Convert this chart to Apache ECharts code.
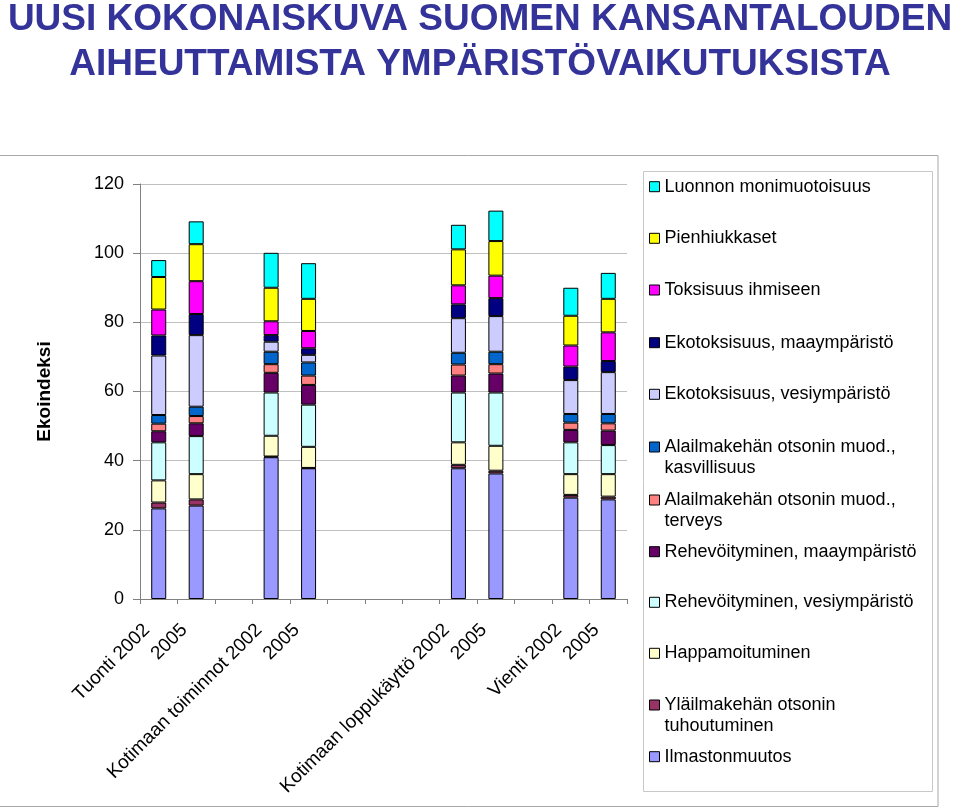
<!DOCTYPE html>
<html>
<head>
<meta charset="utf-8">
<script src="https://cdn.jsdelivr.net/npm/echarts@6/dist/echarts.min.js"></script>
<style>html,body{margin:0;padding:0;background:#fff;}#c{width:960px;height:809px;}</style>
</head>
<body>
<div id="c"></div>
<script>
// ---- data ----
var categories = ['Tuonti 2002','Tuonti 2005','gap1','Kotimaan toiminnot 2002','Kotimaan toiminnot 2005','gap2','gap3','gap4','Kotimaan loppukäyttö 2002','Kotimaan loppukäyttö 2005','gap5','Vienti 2002','Vienti 2005'];
var tickLabels = ['Tuonti 2002','2005','','Kotimaan toiminnot 2002','2005','','','','Kotimaan loppukäyttö 2002','2005','','Vienti 2002','2005'];
var yTicks = [0,20,40,60,80,100,120];

var ilmastonmuutos = [26.2, 27.0, null, 41.0, 37.8, null, null, null, 37.8, 36.3, null, 29.3, 28.8];
var ylailmakehan   = [1.7, 1.8, null, 0.2, 0.1, null, null, null, 1.0, 0.8, null, 0.8, 0.8];
var happamoitum    = [6.4, 7.3, null, 6.0, 6.1, null, null, null, 6.5, 7.2, null, 6.0, 6.5];
var rehevVesi      = [11.0, 11.0, null, 12.5, 12.2, null, null, null, 14.4, 15.4, null, 9.2, 8.4];
var rehevMaa       = [3.2, 3.7, null, 5.7, 5.7, null, null, null, 4.9, 5.5, null, 3.6, 4.2];
var otsoniTerveys  = [2.2, 2.1, null, 2.5, 2.7, null, null, null, 3.2, 2.7, null, 2.1, 2.1];
var otsoniKasv     = [2.5, 2.7, null, 3.6, 3.8, null, null, null, 3.4, 3.6, null, 2.5, 2.7];
var ekotoxVesi     = [17.2, 20.7, null, 2.9, 2.2, null, null, null, 10.0, 10.3, null, 9.8, 12.1];
var ekotoxMaa      = [5.8, 6.1, null, 1.9, 1.9, null, null, null, 4.0, 5.2, null, 3.9, 3.2];
var toksisuus      = [7.5, 9.5, null, 4.0, 5.0, null, null, null, 5.5, 6.5, null, 6.1, 8.3];
var pienhiukkaset  = [9.4, 10.7, null, 9.7, 9.3, null, null, null, 10.4, 10.0, null, 8.6, 9.7];
var luonnon        = [4.9, 6.6, null, 10.1, 10.3, null, null, null, 7.1, 8.8, null, 8.1, 7.5];

var seriesNames = ['Ilmastonmuutos','Yläilmakehän otsonin tuhoutuminen','Happamoituminen','Rehevöityminen, vesiympäristö','Rehevöityminen, maaympäristö','Alailmakehän otsonin muod., terveys','Alailmakehän otsonin muod., kasvillisuus','Ekotoksisuus, vesiympäristö','Ekotoksisuus, maaympäristö','Toksisuus ihmiseen','Pienhiukkaset','Luonnon monimuotoisuus'];
var legendLabels = ['Ilmastonmuutos','Yläilmakehän otsonin\ntuhoutuminen','Happamoituminen','Rehevöityminen, vesiympäristö','Rehevöityminen, maaympäristö','Alailmakehän otsonin muod.,\nterveys','Alailmakehän otsonin muod.,\nkasvillisuus','Ekotoksisuus, vesiympäristö','Ekotoksisuus, maaympäristö','Toksisuus ihmiseen','Pienhiukkaset','Luonnon monimuotoisuus'];
var seriesData = [ilmastonmuutos, ylailmakehan, happamoitum, rehevVesi, rehevMaa, otsoniTerveys, otsoniKasv, ekotoxVesi, ekotoxMaa, toksisuus, pienhiukkaset, luonnon];
var colors = ['#9999FF','#993366','#FFFFCC','#CCFFFF','#660066','#FF8080','#0066CC','#CCCCFF','#000080','#FF00FF','#FFFF00','#00FFFF'];

// ---- chart ----
var FONT = '"Liberation Sans", Arial, sans-serif';
var chart = echarts.init(document.getElementById('c'), null, {renderer: 'canvas'});

var series = seriesNames.map(function (n, i) {
  return {
    name: n, type: 'bar', stack: 'total', barWidth: 15,
    data: seriesData[i],
    itemStyle: {color: colors[i], borderColor: '#000', borderWidth: 1},
    emphasis: {disabled: true}
  };
});

// legend: top-to-bottom is reverse of stack order
var legendFirstLineY = [186.7, 238.3, 290, 342.7, 394.3, 447, 500, 551.7, 602.3, 653.3, 705, 756.7];
var legends = [];
for (var k = 0; k < seriesNames.length; k++) {
  var idx = seriesNames.length - 1 - k;
  var twoLine = legendLabels[idx].indexOf('\n') >= 0;
  // for two-line entries, a leading empty line keeps the first text line level with the icon
  var shown = twoLine ? '\n' + legendLabels[idx] : legendLabels[idx];
  legends.push({
    data: [seriesNames[idx]],
    orient: 'vertical',
    left: 649,
    top: legendFirstLineY[k] - (twoLine ? 31.5 : 10.5),
    padding: 0,
    itemWidth: 10, itemHeight: 10,
    selectedMode: false,
    icon: 'rect',
    itemStyle: {borderColor: '#000', borderWidth: 1},
    formatter: (function (lbl) { return function () { return lbl; }; })(shown),
    textStyle: {
      fontFamily: FONT, fontSize: 18, color: '#000', lineHeight: 21,
      backgroundColor: 'rgba(0,0,0,0)'
    }
  });
}

var option = {
  animation: false,
  backgroundColor: '#fff',
  title: {
    text: 'UUSI KOKONAISKUVA SUOMEN KANSANTALOUDEN\nAIHEUTTAMISTA YMPÄRISTÖVAIKUTUKSISTA',
    left: 'center', top: -3, padding: 0,
    textStyle: {fontFamily: FONT, fontSize: 37, fontWeight: 'bold', color: '#333399', lineHeight: 45}
  },
  grid: {left: 140, right: 333, top: 184, bottom: 210, containLabel: false},
  legend: legends,
  xAxis: {
    type: 'category',
    data: categories,
    axisLine: {lineStyle: {color: '#808080', width: 1}},
    axisTick: {show: true, interval: 0, length: 5, lineStyle: {color: '#808080'}},
    axisLabel: {
      interval: 0, rotate: 45, margin: 16, fontSize: 19, fontFamily: FONT, color: '#000',
      padding: [0, 17, 0, 0],
      formatter: function (v, i) { return tickLabels[i]; }
    },
    splitLine: {show: false}
  },
  yAxis: {
    type: 'value', min: yTicks[0], max: yTicks[yTicks.length - 1], interval: 20,
    name: 'Ekoindeksi', nameLocation: 'middle', nameGap: 86,
    nameTextStyle: {fontFamily: FONT, fontSize: 19, fontWeight: 'bold', color: '#000'},
    axisLine: {show: true, lineStyle: {color: '#808080', width: 1}},
    axisTick: {show: true, length: 7, lineStyle: {color: '#808080'}},
    axisLabel: {fontSize: 18, fontFamily: FONT, color: '#000', margin: 16},
    splitLine: {show: true, lineStyle: {color: '#c0c0c0', width: 1}}
  },
  graphic: [
    {type: 'rect', silent: true, z: -10, shape: {x: -2, y: 155.5, width: 940, height: 651}, style: {fill: 'none', stroke: '#a8a8a8', lineWidth: 1}},
    {type: 'rect', silent: true, z: -9, shape: {x: 643.5, y: 171.5, width: 289, height: 620}, style: {fill: 'none', stroke: '#c8c8c8', lineWidth: 1}}
  ],
  series: series
};
chart.setOption(option);
</script>
</body>
</html>
